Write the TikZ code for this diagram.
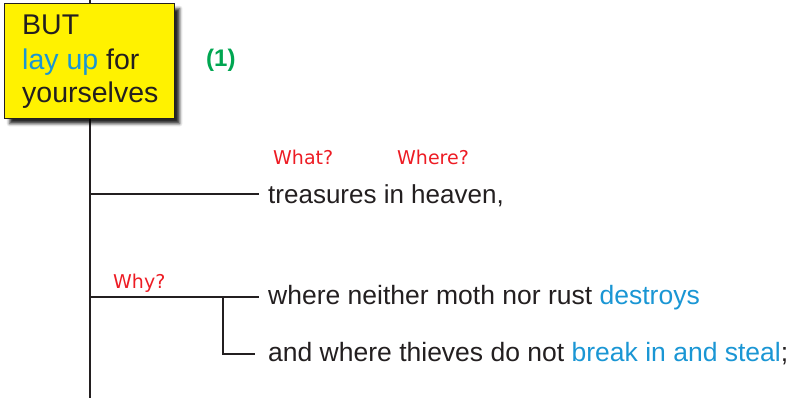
\documentclass[tikz,border=0pt]{standalone}
\usepackage{fontspec}
\setmainfont{Liberation Sans}
\newfontfamily\redfont{DejaVu Sans}
\usetikzlibrary{shadows.blur}
\definecolor{boxyellow}{HTML}{FFF200}
\definecolor{txtblue}{HTML}{1A96D4}
\definecolor{txtgreen}{HTML}{00A651}
\definecolor{txtred}{HTML}{ED1C24}
\definecolor{txtdark}{HTML}{231F20}
\tikzset{
  conn/.style={draw=txtdark, line width=2pt},
  maintext/.style={anchor=base west, inner sep=0pt, text=txtdark, font=\fontsize{26.5}{30}\selectfont},
  boxtext/.style={anchor=base west, inner sep=0pt, text=txtdark, font=\fontsize{28.5}{34}\selectfont},
  qlabel/.style={anchor=base west, inner sep=0pt, text=txtred, font=\redfont\fontsize{19}{22}\selectfont},
  yellowbox/.style={draw=txtdark, line width=1.2pt, fill=boxyellow, minimum width=170pt, minimum height=115pt, inner sep=0pt,
    blur shadow={shadow xshift=5pt, shadow yshift=-5pt, shadow blur radius=3pt, shadow opacity=85}},
}
\begin{document}
\begin{tikzpicture}[x=1pt,y=-1pt]
\useasboundingbox (0,0) rectangle (798,398);
% main vertical line
\coordinate (top) at (90,0);
\coordinate (bot) at (90,398);
\draw[conn] (top) -- (bot);
% box
\node[yellowbox, anchor=north west] (box) at (4,3) {};
\node[boxtext] (l1) at (22,35) {BUT};
\node[boxtext] (l2) at (22,69.5) {\textcolor{txtblue}{lay up} for};
\node[boxtext] (l3) at (22,103) {yourselves};
\node[anchor=base west, inner sep=0pt, text=txtgreen, font=\bfseries\fontsize{24}{28}\selectfont] (num) at (206,67) {(1)};
% labels
\node[qlabel] (what) at (273,165) {What?};
\node[qlabel] (where) at (397,165) {Where?};
\node[qlabel] (why) at (113,288) {Why?};
% text lines
\node[maintext, font=\fontsize{26}{30}\selectfont] (t1) at (268,204) {treasures in heaven,};
\node[maintext] (t2) at (268,304) {where neither moth nor rust \textcolor{txtblue}{destroys}};
\node[maintext] (t3) at (268,361.5) {and where thieves do not \textcolor{txtblue}{break in and steal};};
% connectors
\coordinate (j1) at (90,194.5);
\coordinate (e1) at (259,194.5);
\draw[conn] (j1) -- (e1);
\coordinate (j2) at (90,296.5);
\coordinate (e2) at (259,296.5);
\coordinate (b2) at (223,296.5);
\coordinate (b3) at (223,353.5);
\coordinate (e3) at (255,353.5);
\draw[conn] (j2) -- (e2);
\draw[conn] (b2) -- (b3) -- (e3);
\end{tikzpicture}
\end{document}
